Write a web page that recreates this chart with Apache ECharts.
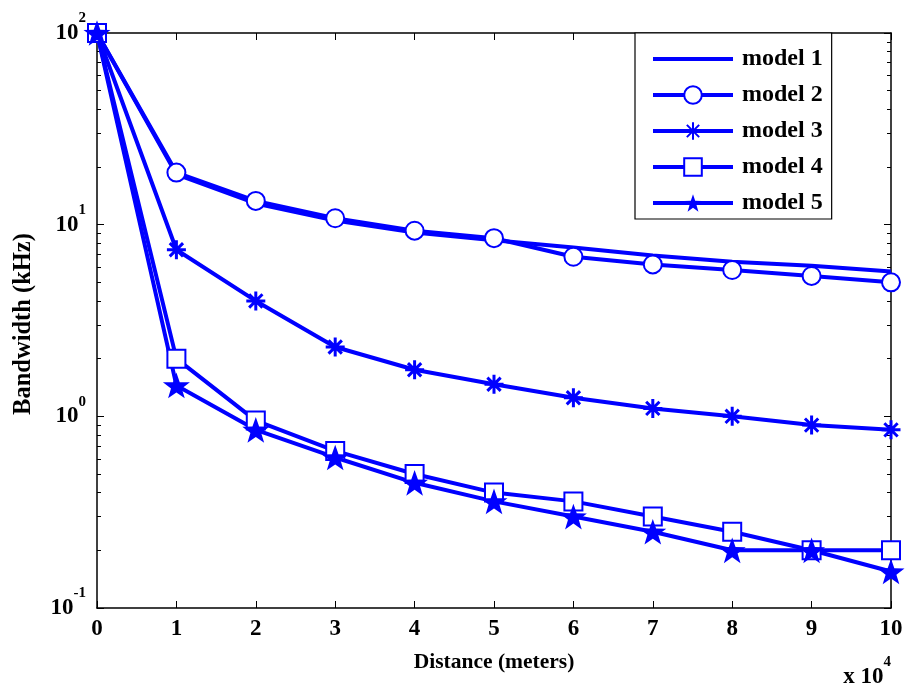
<!DOCTYPE html>
<html>
<head>
<meta charset="utf-8">
<script src="https://cdn.jsdelivr.net/npm/echarts@6/dist/echarts.min.js"></script>
<style>html,body{margin:0;padding:0;background:#fff}#c{width:907px;height:690px}</style>
</head>
<body>
<div id="c"></div>
<script>
const xVals = [0, 1, 2, 3, 4, 5, 6, 7, 8, 9, 10];
const model1 = [100, 18.3, 12.9, 10.5, 9.1, 8.3, 7.6, 6.9, 6.4, 6.1, 5.7];
const model2 = [100, 18.7, 13.3, 10.8, 9.3, 8.5, 6.8, 6.2, 5.8, 5.4, 5.0];
const model3 = [100, 7.4, 4.0, 2.3, 1.75, 1.47, 1.25, 1.1, 1.0, 0.9, 0.85];
const model4 = [100, 2.0, 0.95, 0.66, 0.5, 0.4, 0.36, 0.3, 0.25, 0.2, 0.2];
const model5 = [100, 1.45, 0.85, 0.61, 0.45, 0.36, 0.3, 0.25, 0.2, 0.2, 0.155];
const seriesNames = ['model 1', 'model 2', 'model 3', 'model 4', 'model 5'];
const yMajorTicks = [0.1, 1, 10, 100];
const yMinorTicks = [0.2,0.3,0.4,0.5,0.6,0.7,0.8,0.9,2,3,4,5,6,7,8,9,20,30,40,50,60,70,80,90];
const xAxisTitle = 'Distance (meters)';
const yAxisTitle = 'Bandwidth (kHz)';
const xScaleExp = 4;

const FONT = 'Liberation Serif';
const BLUE = '#0000ff';
const STAR = 'path://M0,-10L2.35,-3.24L9.51,-3.09L3.8,1.24L5.88,8.09L0,4L-5.88,8.09L-3.8,1.24L-9.51,-3.09L-2.35,-3.24Z';
const AST = 'path://M0,-10L0,10M-10,0L10,0M-7,-7L7,7M-7,7L7,-7';

const allData = [model1, model2, model3, model4, model5];
const symbols = ['circle', 'emptyCircle', AST, 'emptyRect', STAR];
const sizes = [0, 18, 19, 18, 27];

const chart = echarts.init(document.getElementById('c'), null, {renderer: 'canvas'});

const axisLineStyle = {color: '#000', width: 1.5};
const supRich = {
  b: {fontFamily: FONT, fontWeight: 'bold', fontSize: 23, color: '#000'},
  s: {fontFamily: FONT, fontWeight: 'bold', fontSize: 15, color: '#000', padding: [0, 0, 29, 0]}
};

const series = allData.map((arr, i) => ({
  name: seriesNames[i],
  type: 'line',
  data: xVals.map((x, j) => [x, arr[j]]),
  symbol: symbols[i],
  symbolSize: sizes[i],
  symbolKeepAspect: true,
  showSymbol: i !== 0,
  clip: false,
  lineStyle: {color: BLUE, width: 4},
  itemStyle: {color: BLUE, borderColor: BLUE, borderWidth: i === 4 ? 0 : 3},
  emphasis: {disabled: true},
  animation: false
}));

const legendData = seriesNames.map((n, i) => i === 0 ? {name: n, itemStyle: {opacity: 0}} : {name: n});

const option = {
  animation: false,
  backgroundColor: '#fff',
  grid: {left: 97, right: 16, top: 33, bottom: 82, containLabel: false},
  legend: {
    orient: 'vertical',
    left: 635,
    top: 33,
    padding: [14, 9, 4, 16],
    itemWidth: 80,
    itemHeight: 22,
    itemGap: 12,
    backgroundColor: '#fff',
    borderColor: '#000',
    borderWidth: 1.2,
    lineStyle: {width: 4},
    textStyle: {fontFamily: FONT, fontWeight: 'bold', fontSize: 24, lineHeight: 22, color: '#000', padding: [0, 0, 0, 4]},
    data: legendData
  },
  xAxis: [
    {
      type: 'value', min: 0, max: 10, interval: 1, position: 'bottom',
      name: xAxisTitle, nameLocation: 'middle', nameGap: 43,
      nameTextStyle: {fontFamily: FONT, fontWeight: 'bold', fontSize: 21.5, color: '#000'},
      axisLine: {show: true, lineStyle: axisLineStyle},
      axisTick: {show: true, inside: true, length: 7, lineStyle: {color: '#000', width: 1}},
      axisLabel: {fontFamily: FONT, fontWeight: 'bold', fontSize: 23, color: '#000', margin: 10},
      splitLine: {show: false}
    },
    {
      type: 'value', min: 0, max: 10, interval: 1, position: 'top',
      axisLine: {show: true, lineStyle: axisLineStyle},
      axisTick: {show: true, inside: true, length: 7, lineStyle: {color: '#000', width: 1}},
      axisLabel: {show: false},
      splitLine: {show: false}
    }
  ],
  yAxis: [
    {
      type: 'log', logBase: 10, min: 0.1, max: 100, position: 'left',
      name: yAxisTitle, nameLocation: 'middle', nameGap: 61, nameRotate: 90,
      nameTextStyle: {fontFamily: FONT, fontWeight: 'bold', fontSize: 24.5, color: '#000', padding: [0, 7, 0, 0]},
      axisLine: {show: true, lineStyle: axisLineStyle},
      axisTick: {show: true, inside: true, length: 7, lineStyle: {color: '#000', width: 1}, customValues: yMajorTicks},
      axisLabel: {
        margin: 11,
        customValues: yMajorTicks,
        formatter: v => '{b|10}{s|' + Math.round(Math.log10(v)) + '}',
        rich: supRich
      },
      splitLine: {show: false}
    },
    {
      type: 'log', logBase: 10, min: 0.1, max: 100, position: 'left',
      axisLine: {show: false},
      axisTick: {show: true, inside: true, length: 4, lineStyle: {color: '#000', width: 1}, customValues: yMinorTicks},
      axisLabel: {show: false},
      splitLine: {show: false}
    },
    {
      type: 'log', logBase: 10, min: 0.1, max: 100, position: 'right',
      axisLine: {show: true, lineStyle: axisLineStyle},
      axisTick: {show: true, inside: true, length: 7, lineStyle: {color: '#000', width: 1}, customValues: yMajorTicks},
      axisLabel: {show: false},
      splitLine: {show: false}
    },
    {
      type: 'log', logBase: 10, min: 0.1, max: 100, position: 'right',
      axisLine: {show: false},
      axisTick: {show: true, inside: true, length: 4, lineStyle: {color: '#000', width: 1}, customValues: yMinorTicks},
      axisLabel: {show: false},
      splitLine: {show: false}
    }
  ],
  graphic: [
    {
      type: 'text',
      right: 16,
      top: 655,
      style: {
        text: '{b|x 10}{s|' + xScaleExp + '}',
        rich: supRich
      }
    }
  ],
  series: series
};
chart.setOption(option);
</script>
</body>
</html>
